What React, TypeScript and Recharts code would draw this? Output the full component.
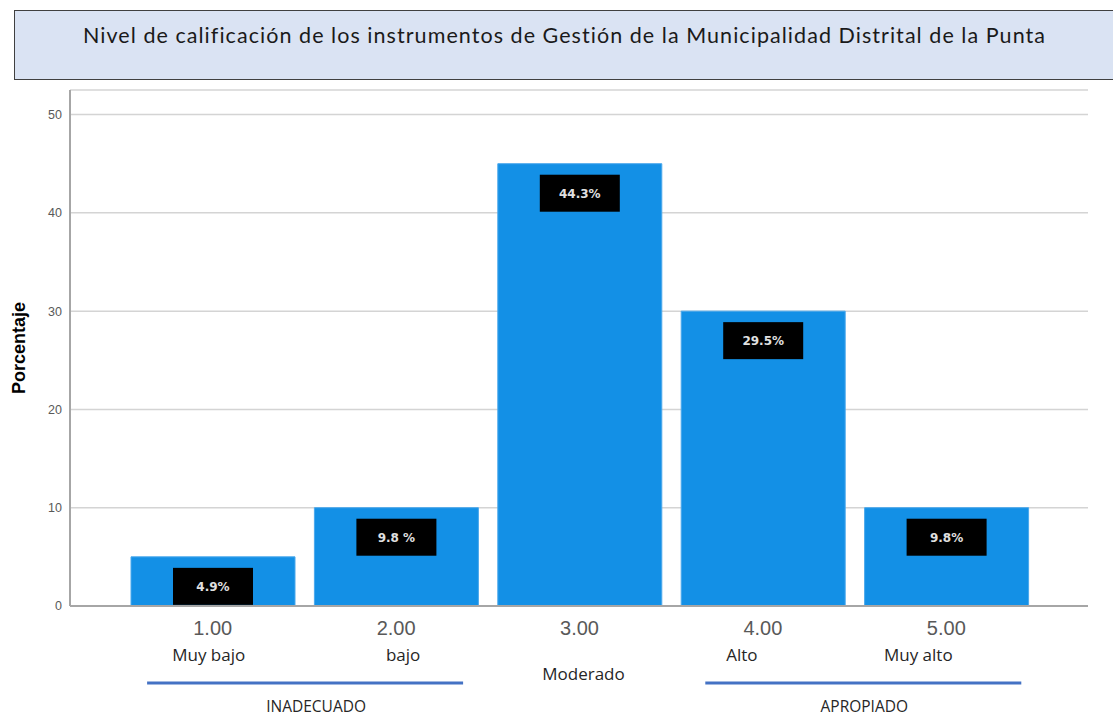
import React from "react";
import { BarChart, Bar, XAxis, YAxis, CartesianGrid, LabelList } from "recharts";

// --- data ---
const codes = ["1.00", "2.00", "3.00", "4.00", "5.00"];
const levels = ["Muy bajo", "bajo", "Moderado", "Alto", "Muy alto"];
const percents = [5, 10, 45, 30, 10];
const percentLabels = ["4.9%", "9.8 %", "44.3%", "29.5%", "9.8%"];
const yTicks = [0, 10, 20, 30, 40, 50];

const chartData = codes.map((code, i) => ({
  code,
  level: levels[i],
  value: percents[i],
  label: percentLabels[i],
}));

const TITLE = "Nivel de calificación de los instrumentos de Gestión de la Municipalidad Distrital de la Punta";

function CodeTick(props: any) {
  const { x, y, payload, index } = props;
  const level = levels[index];
  const nudge = [-4, 7, 4, -21, -28][index] || 0;
  const lower = index === 2;
  return (
    <g>
      <text x={x} y={y + 27} textAnchor="middle" fill="#595959" fontSize={20} fontFamily="Liberation Sans, Arial, sans-serif">
        {payload.value}
      </text>
      <text x={x + nudge} y={y + (lower ? 72 : 53)} textAnchor="middle" fill="#262626" fontSize={17} fontFamily="'Open Sans', sans-serif">
        {level}
      </text>
      {index === 1 && (
        <g>
          <line x1={x - 249} x2={x + 67} y1={y + 75} y2={y + 75} stroke="#4472c4" strokeWidth={3} />
          <text x={x - 80} y={y + 104} textAnchor="middle" fill="#262626" fontSize={15.5} fontFamily="'Open Sans', sans-serif">
            INADECUADO
          </text>
        </g>
      )}
      {index === 4 && (
        <g>
          <line x1={x - 241} x2={x + 75} y1={y + 75} y2={y + 75} stroke="#4472c4" strokeWidth={3} />
          <text x={x - 82} y={y + 104} textAnchor="middle" fill="#262626" fontSize={15.5} fontFamily="'Open Sans', sans-serif">
            APROPIADO
          </text>
        </g>
      )}
    </g>
  );
}

function BoxLabel(props: any) {
  const { x, y, width, value } = props;
  const cx = x + width / 2;
  const top = y + 11;
  return (
    <g>
      <rect x={cx - 40} y={top} width={80} height={37} fill="#000000" />
      <text x={cx} y={top + 23} textAnchor="middle" fill="#e0e0e0" fontSize={12} fontWeight="bold" fontFamily="'DejaVu Sans', sans-serif">
        {value}
      </text>
    </g>
  );
}

function YTitle(props: any) {
  const { viewBox } = props;
  const cx = viewBox.x + 9;
  const cy = viewBox.y + viewBox.height / 2;
  return (
    <text x={cx} y={cy} transform={`rotate(-90, ${cx}, ${cy})`} textAnchor="middle" dominantBaseline="central" fill="#000" fontSize={18} fontWeight="bold" fontFamily="Liberation Sans, Arial, sans-serif">
      Porcentaje
    </text>
  );
}

export default function App() {
  return (
    <div style={{ position: "fixed", left: 0, top: 0, width: 1113, height: 716, background: "#fff", overflow: "hidden" }}>
      <BarChart width={1113} height={716} data={chartData} margin={{ top: 90, right: 25, left: 10, bottom: 0 }}>
        <CartesianGrid vertical={false} stroke="#d4d4d4" strokeWidth={1.5} />
        <XAxis
          dataKey="code"
          height={110}
          padding={{ left: 51, right: 50 }}
          axisLine={{ stroke: "#a6a6a6", strokeWidth: 2 }}
          tickLine={false}
          tickSize={0}
          interval={0}
          tick={<CodeTick />}
        />
        <YAxis
          width={60}
          domain={[0, 52.5]}
          ticks={yTicks}
          axisLine={{ stroke: "#a6a6a6", strokeWidth: 2 }}
          tickLine={false}
          tick={{ fill: "#595959", fontSize: 12.5, fontFamily: "Liberation Sans, Arial, sans-serif" }}
          tickMargin={2}
          label={<YTitle />}
        />
        <Bar dataKey="value" fill="#1390e6" stroke="#4aa8ec" strokeWidth={1} barSize={164} isAnimationActive={false}>
          <LabelList dataKey="label" content={<BoxLabel />} />
        </Bar>
      </BarChart>
      <div
        style={{
          position: "absolute",
          left: 14,
          top: 10,
          width: 1110,
          height: 70,
          boxSizing: "border-box",
          background: "#dae3f3",
          border: "1.5px solid #404040",
          fontFamily: "Lato, sans-serif",
          fontSize: 21.5,
          letterSpacing: 1.05,
          color: "#1a1a1a",
        }}
      >
        <div style={{ position: "absolute", left: 0, width: 1099, top: 11, textAlign: "center", whiteSpace: "nowrap" }}>{TITLE}</div>
      </div>
    </div>
  );
}
